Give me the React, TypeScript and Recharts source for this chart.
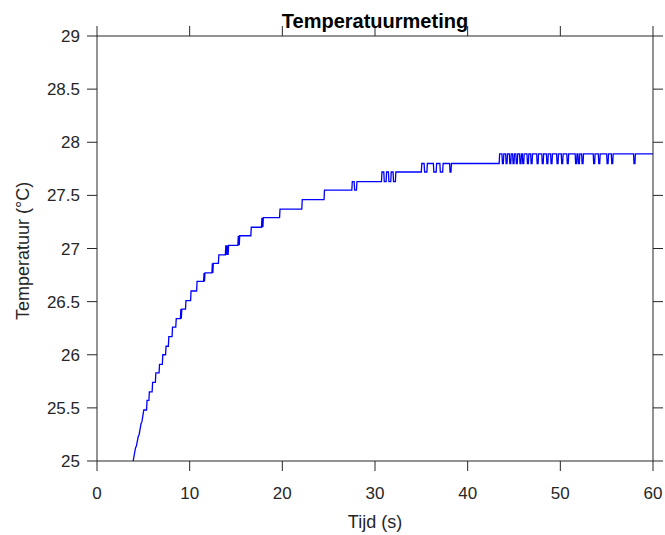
import React from 'react';
import { LineChart, Line, XAxis, YAxis } from 'recharts';

const timeS: number[] = [
  3.9, 4.15, 4.25, 4.45, 4.55, 4.75, 4.85, 5.05, 5.35, 5.4, 5.6, 5.65, 5.95, 6.0, 6.3, 6.35, 6.7, 6.75, 7.05, 7.1,
  7.4, 7.45, 7.7, 7.75, 8.1, 8.15, 8.5, 8.55, 9.0, 9.05, 9.1, 9.15, 9.55, 9.6, 10.1, 10.15, 10.75, 10.8, 11.5, 11.55,
  11.6, 11.65, 12.4, 12.45, 12.5, 12.55, 13.1, 13.15, 13.85, 13.9, 14.0, 14.05, 14.15, 14.2, 15.2, 15.25, 15.35, 15.4, 16.6, 16.65,
  17.75, 17.8, 17.9, 17.95, 19.7, 19.75, 22.1, 22.15, 24.5, 24.55, 27.5, 27.55, 27.75, 27.8, 28.0, 28.05, 30.7, 30.75, 30.95, 31.0,
  31.2, 31.25, 31.45, 31.5, 31.7, 31.75, 31.95, 32.0, 32.2, 32.25, 35.0, 35.05, 35.3, 35.35, 35.6, 35.65, 36.3, 36.35, 36.6, 36.65,
  37.0, 37.05, 37.3, 37.35, 38.05, 38.1, 38.2, 38.25, 43.4, 43.45,
  43.7, 43.75, 43.85, 43.9,
  44.1, 44.15, 44.25, 44.3,
  44.5, 44.55, 44.65, 44.7,
  44.85, 44.9, 45.0, 45.05,
  45.2, 45.25, 45.35, 45.4,
  45.6, 45.65, 45.75, 45.8,
  45.9, 45.95, 46.05, 46.1,
  46.4, 46.45, 46.55, 46.6,
  46.8, 46.85, 46.95, 47.0,
  47.45, 47.5, 47.6, 47.65,
  48.0, 48.05, 48.15, 48.2,
  48.5, 48.55, 48.65, 48.7,
  48.95, 49.0, 49.1, 49.15,
  49.6, 49.65, 49.75, 49.8,
  50.1, 50.15, 50.25, 50.3,
  50.7, 50.75, 50.85, 50.9,
  51.6, 51.65, 51.75, 51.8,
  51.9, 51.95, 52.05, 52.1,
  52.3, 52.35, 52.45, 52.5,
  53.55, 53.6, 53.7, 53.75,
  54.1, 54.15, 54.25, 54.3,
  55.0, 55.05, 55.15, 55.2,
  55.5, 55.55, 55.65, 55.7,
  57.9, 57.95, 58.05, 58.1,
  60.0,
];

const tempC: number[] = [
  25.0, 25.12, 25.14, 25.23, 25.25, 25.35, 25.37, 25.48, 25.48, 25.57, 25.57, 25.65, 25.65, 25.74, 25.74, 25.83, 25.83, 25.91, 25.91, 26.0,
  26.0, 26.08, 26.08, 26.17, 26.17, 26.26, 26.26, 26.34, 26.34, 26.43, 26.34, 26.43, 26.43, 26.51, 26.51, 26.6, 26.6, 26.69, 26.69, 26.77,
  26.69, 26.77, 26.77, 26.86, 26.77, 26.86, 26.86, 26.94, 26.94, 27.03, 26.94, 27.03, 26.94, 27.03, 27.03, 27.12, 27.03, 27.12, 27.12, 27.2,
  27.2, 27.29, 27.2, 27.29, 27.29, 27.37, 27.37, 27.46, 27.46, 27.55, 27.55, 27.63, 27.63, 27.55, 27.55, 27.63, 27.63, 27.72, 27.72, 27.63,
  27.63, 27.72, 27.72, 27.63, 27.63, 27.72, 27.72, 27.63, 27.63, 27.72, 27.72, 27.8, 27.8, 27.72, 27.72, 27.8, 27.8, 27.72, 27.72, 27.8,
  27.8, 27.72, 27.72, 27.8, 27.8, 27.72, 27.72, 27.8, 27.8, 27.89,
  27.89, 27.8, 27.8, 27.89,
  27.89, 27.8, 27.8, 27.89,
  27.89, 27.8, 27.8, 27.89,
  27.89, 27.8, 27.8, 27.89,
  27.89, 27.8, 27.8, 27.89,
  27.89, 27.8, 27.8, 27.89,
  27.89, 27.8, 27.8, 27.89,
  27.89, 27.8, 27.8, 27.89,
  27.89, 27.8, 27.8, 27.89,
  27.89, 27.8, 27.8, 27.89,
  27.89, 27.8, 27.8, 27.89,
  27.89, 27.8, 27.8, 27.89,
  27.89, 27.8, 27.8, 27.89,
  27.89, 27.8, 27.8, 27.89,
  27.89, 27.8, 27.8, 27.89,
  27.89, 27.8, 27.8, 27.89,
  27.89, 27.8, 27.8, 27.89,
  27.89, 27.8, 27.8, 27.89,
  27.89, 27.8, 27.8, 27.89,
  27.89, 27.8, 27.8, 27.89,
  27.89, 27.8, 27.8, 27.89,
  27.89, 27.8, 27.8, 27.89,
  27.89, 27.8, 27.8, 27.89,
  27.89, 27.8, 27.8, 27.89,
  27.89,
];

const xTicks: number[] = [0, 10, 20, 30, 40, 50, 60];
const yTicks: number[] = [25, 25.5, 26, 26.5, 27, 27.5, 28, 28.5, 29];

const titleText = 'Temperatuurmeting';
const xLabelText = 'Tijd (s)';
const yLabelText = 'Temperatuur (°C)';

const data = timeS.map((t, i) => ({ t, T: tempC[i] }));

const FONT = '"Liberation Sans", Arial, Helvetica, sans-serif';
const AX = '#262626';

const NoLabel = () => <g />;

export default function App() {
  return (
    <div style={{ position: 'absolute', left: 0, top: 0, width: 665, height: 535, background: '#ffffff' }}>
      <LineChart width={665} height={535} data={data} margin={{ top: 35, right: 11, bottom: 0, left: 0 }}>
        <XAxis
          dataKey="t"
          type="number"
          domain={[0, 60]}
          ticks={xTicks}
          allowDataOverflow
          height={74}
          tickSize={10}
          tickMargin={16}
          stroke={AX}
          tick={{ fill: AX, fontSize: 17, fontFamily: FONT }}
          label={() => (
            <text x={375} y={528} textAnchor="middle" fill={AX} fontSize={18} fontFamily={FONT}>
              {xLabelText}
            </text>
          )}
        />
        <XAxis
          xAxisId="top"
          dataKey="t"
          orientation="top"
          type="number"
          domain={[0, 60]}
          ticks={xTicks}
          allowDataOverflow
          height={1}
          tickSize={10}
          tick={NoLabel}
          tickLine={{ stroke: AX }}
          stroke={AX}
          label={() => (
            <text x={375} y={28} textAnchor="middle" fill="#000000" fontSize={20} fontWeight="bold" fontFamily={FONT}>
              {titleText}
            </text>
          )}
        />
        <YAxis
          type="number"
          domain={[25, 29]}
          ticks={yTicks}
          allowDataOverflow
          width={97}
          tickSize={10}
          tickMargin={7}
          stroke={AX}
          tick={{ fill: AX, fontSize: 17, fontFamily: FONT }}
          label={() => (
            <text
              x={29}
              y={251}
              textAnchor="middle"
              fill={AX}
              fontSize={18}
              fontFamily={FONT}
              transform="rotate(-90, 29, 251)"
            >
              {yLabelText}
            </text>
          )}
        />
        <YAxis
          yAxisId="right"
          orientation="right"
          type="number"
          domain={[25, 29]}
          ticks={yTicks}
          allowDataOverflow
          width={1}
          tickSize={10}
          tick={NoLabel}
          tickLine={{ stroke: AX }}
          stroke={AX}
        />
        <Line
          type="linear"
          dataKey="T"
          stroke="#0000ff"
          strokeWidth={1.3}
          dot={false}
          activeDot={false}
          isAnimationActive={false}
        />
        <Line
          xAxisId="top"
          yAxisId="right"
          type="linear"
          dataKey="T"
          stroke="none"
          strokeWidth={0}
          dot={false}
          activeDot={false}
          legendType="none"
          isAnimationActive={false}
        />
      </LineChart>
    </div>
  );
}
